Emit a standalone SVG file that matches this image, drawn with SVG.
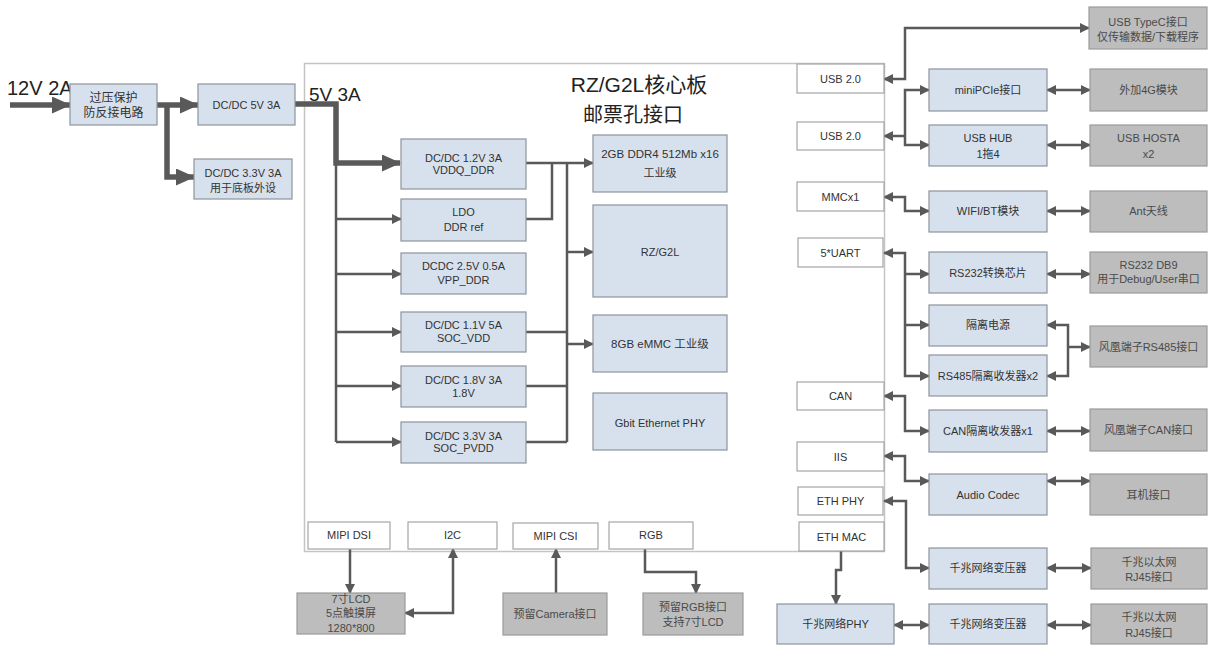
<svg xmlns="http://www.w3.org/2000/svg" width="1210" height="646" viewBox="0 0 1210 646">
<style>
.b{fill:#d7e1ee;stroke:#8d949c;stroke-width:1.2}
.g{fill:#bdbdbd;stroke:#9a9a9a;stroke-width:1.2}
.w{fill:#fff;stroke:#a6a6a6;stroke-width:1.2}
text{font-family:"Liberation Sans","Noto Sans CJK SC",sans-serif;font-size:11px;fill:#333;text-anchor:middle}
.gt{fill:#4a4a4a}
.c{fill:none;stroke:#595959;stroke-width:2.5}
.k{fill:none;stroke:#595959;stroke-width:5.5}
.big{font-size:20px;fill:#222;text-anchor:start}
</style>
<defs>
<marker id="a" viewBox="0 0 10 10" refX="9" refY="5" markerWidth="11" markerHeight="10" markerUnits="userSpaceOnUse" orient="auto-start-reverse"><path d="M0,0 L10,5 L0,10 z" fill="#595959"/></marker>
<marker id="A" viewBox="0 0 19 17" refX="18" refY="8.5" markerWidth="19" markerHeight="17" markerUnits="userSpaceOnUse" orient="auto"><path d="M0,0 L19,8.5 L0,17 z" fill="#595959"/></marker>
</defs>
<rect width="1210" height="646" fill="#fff"/>
<g id="board">
<rect x="304.5" y="63.5" width="580" height="488" fill="#fff" stroke="#c4c4c4" stroke-width="1.5"/>
<text x="639" y="92" style="font-size:21px;fill:#222">RZ/G2L核心板</text>
<text x="633" y="122" style="font-size:20px;fill:#222">邮票孔接口</text>
</g>
<text class="big" x="7" y="95">12V 2A</text>
<text class="big" x="309" y="101" style="font-size:19px">5V 3A</text>

<g id="connectors">
<path class="k" d="M10,105 H70" marker-end="url(#A)"/>
<path class="k" d="M157,105 H198" marker-end="url(#A)"/>
<path class="k" d="M167,105 V177 H194" marker-end="url(#A)"/>
<path class="k" d="M295,104 H336 V163 H400" marker-end="url(#A)"/>
<path class="c" d="M336,163 V442"/>
<path class="c" d="M336,219 H401" marker-end="url(#a)"/>
<path class="c" d="M336,274 H401" marker-end="url(#a)"/>
<path class="c" d="M336,332 H401" marker-end="url(#a)"/>
<path class="c" d="M336,386 H401" marker-end="url(#a)"/>
<path class="c" d="M336,442 H401" marker-end="url(#a)"/>
<path class="c" d="M526,163 H593" marker-end="url(#a)"/>
<path class="c" d="M526,219 H552 V163"/>
<path class="c" d="M567,163 V442"/>
<path class="c" d="M567,252 H593" marker-end="url(#a)"/>
<path class="c" d="M526,332 H567"/>
<path class="c" d="M526,386 H567"/>
<path class="c" d="M526,442 H567"/>
<path class="c" d="M567,344 H593" marker-end="url(#a)"/>

<path class="c" d="M884,79 H905 V28 H1089" marker-start="url(#a)" marker-end="url(#a)"/>
<path class="c" d="M929,90 H905 V145 H929" marker-start="url(#a)" marker-end="url(#a)"/>
<path class="c" d="M905,136 H884" marker-end="url(#a)"/>
<path class="c" d="M1047,90 H1090" marker-start="url(#a)" marker-end="url(#a)"/>
<path class="c" d="M1047,145 H1090" marker-start="url(#a)" marker-end="url(#a)"/>
<path class="c" d="M884,197 H905 V211 H929" marker-start="url(#a)" marker-end="url(#a)"/>
<path class="c" d="M1047,211 H1090" marker-start="url(#a)" marker-end="url(#a)"/>
<path class="c" d="M884,253 H905 V376 H929" marker-start="url(#a)" marker-end="url(#a)"/>
<path class="c" d="M905,274 H929" marker-end="url(#a)"/>
<path class="c" d="M905,325 H929" marker-end="url(#a)"/>
<path class="c" d="M1047,274 H1090" marker-start="url(#a)" marker-end="url(#a)"/>
<path class="c" d="M1047,325 H1068 V376 H1047" marker-start="url(#a)" marker-end="url(#a)"/>
<path class="c" d="M1068,347 H1090" marker-end="url(#a)"/>
<path class="c" d="M884,396 H905 V431 H929" marker-start="url(#a)" marker-end="url(#a)"/>
<path class="c" d="M1047,431 H1090" marker-start="url(#a)" marker-end="url(#a)"/>
<path class="c" d="M884,456 H905 V481 H929" marker-start="url(#a)" marker-end="url(#a)"/>
<path class="c" d="M1047,481 H1090" marker-start="url(#a)" marker-end="url(#a)"/>
<path class="c" d="M884,501 H906 V568 H929" marker-start="url(#a)" marker-end="url(#a)"/>
<path class="c" d="M1047,568 H1091" marker-start="url(#a)" marker-end="url(#a)"/>
<path class="c" d="M841,551 V570 H836 V604" marker-end="url(#a)"/>
<path class="c" d="M894,625 H929" marker-start="url(#a)" marker-end="url(#a)"/>
<path class="c" d="M1047,625 H1091" marker-start="url(#a)" marker-end="url(#a)"/>

<path class="c" d="M350,549 V593" marker-end="url(#a)"/>
<path class="c" d="M453,549 V613 H405" marker-start="url(#a)" marker-end="url(#a)"/>
<path class="c" d="M556,593 V549" marker-end="url(#a)"/>
<path class="c" d="M645,549 V572 H696 V593" marker-end="url(#a)"/>
</g>

<g id="n_protect"><rect class="b" x="70" y="84" width="87" height="41"/><text x="113.5" y="102" style="font-size:12px">过压保护</text><text x="113.5" y="117" style="font-size:12px">防反接电路</text></g>
<g id="n_dc5"><rect class="b" x="198" y="84" width="97" height="41"/><text x="246.5" y="109">DC/DC 5V 3A</text></g>
<g id="n_dc33b"><rect class="b" x="194" y="159" width="98" height="40"/><text x="243" y="177">DC/DC 3.3V 3A</text><text x="243" y="192">用于底板外设</text></g>

<g id="n_dc12"><rect class="b" x="401" y="139" width="125" height="50"/><text x="463.5" y="162">DC/DC  1.2V 3A</text><text x="463.5" y="174">VDDQ_DDR</text></g>
<g id="n_ldo"><rect class="b" x="401" y="199" width="125" height="42"/><text x="463.5" y="216">LDO</text><text x="463.5" y="231">DDR  ref</text></g>
<g id="n_dc25"><rect class="b" x="401" y="253" width="125" height="41"/><text x="463.5" y="270">DCDC  2.5V 0.5A</text><text x="463.5" y="284">VPP_DDR</text></g>
<g id="n_dc11"><rect class="b" x="401" y="312" width="125" height="40"/><text x="463.5" y="329">DC/DC  1.1V 5A</text><text x="463.5" y="342">SOC_VDD</text></g>
<g id="n_dc18"><rect class="b" x="401" y="366" width="125" height="41"/><text x="463.5" y="384">DC/DC  1.8V 3A</text><text x="463.5" y="397">1.8V</text></g>
<g id="n_dc33"><rect class="b" x="401" y="422" width="125" height="41"/><text x="463.5" y="440">DC/DC  3.3V 3A</text><text x="463.5" y="452">SOC_PVDD</text></g>

<g id="n_ddr"><rect class="b" x="593" y="135" width="134" height="57"/><text x="660" y="158" style="font-size:11.5px">2GB DDR4 512Mb x16</text><text x="660" y="177">工业级</text></g>
<g id="n_soc"><rect class="b" x="593" y="205" width="134" height="92"/><text x="660" y="256">RZ/G2L</text></g>
<g id="n_emmc"><rect class="b" x="593" y="315" width="134" height="57"/><text x="660" y="348" style="font-size:11.5px">8GB eMMC 工业级</text></g>
<g id="n_gphy"><rect class="b" x="593" y="393" width="134" height="57"/><text x="660" y="427">Gbit Ethernet PHY</text></g>

<g id="i_usb1"><rect class="w" x="797" y="64" width="87" height="29"/><text x="840.5" y="83">USB 2.0</text></g>
<g id="i_usb2"><rect class="w" x="797" y="122" width="87" height="28"/><text x="840.5" y="140">USB 2.0</text></g>
<g id="i_mmc"><rect class="w" x="797" y="182" width="87" height="29"/><text x="840.5" y="201">MMCx1</text></g>
<g id="i_uart"><rect class="w" x="798" y="238" width="85" height="29"/><text x="840.5" y="257">5*UART</text></g>
<g id="i_can"><rect class="w" x="797" y="382" width="87" height="28"/><text x="840.5" y="400">CAN</text></g>
<g id="i_iis"><rect class="w" x="797" y="442" width="87" height="29"/><text x="840.5" y="461">IIS</text></g>
<g id="i_ethphy"><rect class="w" x="798" y="487" width="85" height="28"/><text x="840.5" y="505">ETH PHY</text></g>
<g id="i_ethmac"><rect class="w" x="799" y="522" width="85" height="29"/><text x="841.5" y="541">ETH MAC</text></g>
<g id="i_dsi"><rect class="w" x="308" y="522" width="82" height="27"/><text x="349" y="539">MIPI DSI</text></g>
<g id="i_i2c"><rect class="w" x="408" y="522" width="89" height="27"/><text x="452.5" y="539">I2C</text></g>
<g id="i_csi"><rect class="w" x="513" y="523" width="85" height="26"/><text x="555.5" y="540">MIPI  CSI</text></g>
<g id="i_rgb"><rect class="w" x="609" y="522" width="84" height="27"/><text x="651" y="539">RGB</text></g>

<g id="n_typec"><rect class="g" x="1089" y="7" width="118" height="42"/><text class="gt" x="1148" y="26">USB  TypeC接口</text><text class="gt" x="1148" y="41">仅传输数据/下载程序</text></g>
<g id="n_minipcie"><rect class="b" x="929" y="69" width="118" height="42"/><text x="988" y="94">miniPCIe接口</text></g>
<g id="n_4g"><rect class="g" x="1090" y="69" width="117" height="42"/><text class="gt" x="1148.5" y="94">外加4G模块</text></g>
<g id="n_hub"><rect class="b" x="929" y="125" width="118" height="41"/><text x="988" y="142">USB  HUB</text><text x="988" y="158">1拖4</text></g>
<g id="n_hosta"><rect class="g" x="1090" y="125" width="117" height="41"/><text class="gt" x="1148.5" y="142">USB  HOSTA</text><text class="gt" x="1148.5" y="158">x2</text></g>
<g id="n_wifi"><rect class="b" x="929" y="191" width="118" height="41"/><text x="988" y="215">WIFI/BT模块</text></g>
<g id="n_ant"><rect class="g" x="1090" y="191" width="117" height="41"/><text class="gt" x="1148.5" y="215">Ant天线</text></g>
<g id="n_rs232"><rect class="b" x="929" y="252" width="118" height="41"/><text x="988" y="277">RS232转换芯片</text></g>
<g id="n_db9"><rect class="g" x="1090" y="252" width="117" height="41"/><text class="gt" x="1148.5" y="269">RS232  DB9</text><text class="gt" x="1148.5" y="283">用于Debug/User串口</text></g>
<g id="n_isopwr"><rect class="b" x="929" y="305" width="118" height="41"/><text x="988" y="329">隔离电源</text></g>
<g id="n_rs485"><rect class="b" x="929" y="355" width="118" height="41"/><text x="988" y="380">RS485隔离收发器x2</text></g>
<g id="n_p485"><rect class="g" x="1090" y="326" width="117" height="41"/><text class="gt" x="1148.5" y="351">风凰端子RS485接口</text></g>
<g id="n_cantr"><rect class="b" x="929" y="410" width="118" height="42"/><text x="988" y="435">CAN隔离收发器x1</text></g>
<g id="n_pcan"><rect class="g" x="1090" y="409" width="117" height="42"/><text class="gt" x="1148.5" y="434">风凰端子CAN接口</text></g>
<g id="n_audio"><rect class="b" x="929" y="474" width="118" height="41"/><text x="988" y="499">Audio  Codec</text></g>
<g id="n_ear"><rect class="g" x="1090" y="474" width="117" height="41"/><text class="gt" x="1148.5" y="499">耳机接口</text></g>
<g id="n_tr1"><rect class="b" x="929" y="548" width="118" height="41"/><text x="988" y="572">千兆网络变压器</text></g>
<g id="n_rj1"><rect class="g" x="1091" y="548" width="116" height="41"/><text class="gt" x="1149" y="566">千兆以太网</text><text class="gt" x="1149" y="581">RJ45接口</text></g>
<g id="n_phy"><rect class="b" x="777" y="604" width="117" height="40"/><text x="835.5" y="628">千兆网络PHY</text></g>
<g id="n_tr2"><rect class="b" x="929" y="604" width="118" height="40"/><text x="988" y="628">千兆网络变压器</text></g>
<g id="n_rj2"><rect class="g" x="1091" y="604" width="116" height="40"/><text class="gt" x="1149" y="621">千兆以太网</text><text class="gt" x="1149" y="637">RJ45接口</text></g>

<g id="n_lcd"><rect class="g" x="297" y="593" width="108" height="41"/><text class="gt" x="351" y="603">7寸LCD</text><text class="gt" x="351" y="617">5点触摸屏</text><text class="gt" x="351" y="632">1280*800</text></g>
<g id="n_cam"><rect class="g" x="503" y="593" width="104" height="42"/><text class="gt" x="555" y="618">预留Camera接口</text></g>
<g id="n_rgbx"><rect class="g" x="643" y="593" width="100" height="42"/><text class="gt" x="693" y="611">预留RGB接口</text><text class="gt" x="693" y="626">支持7寸LCD</text></g>
</svg>
